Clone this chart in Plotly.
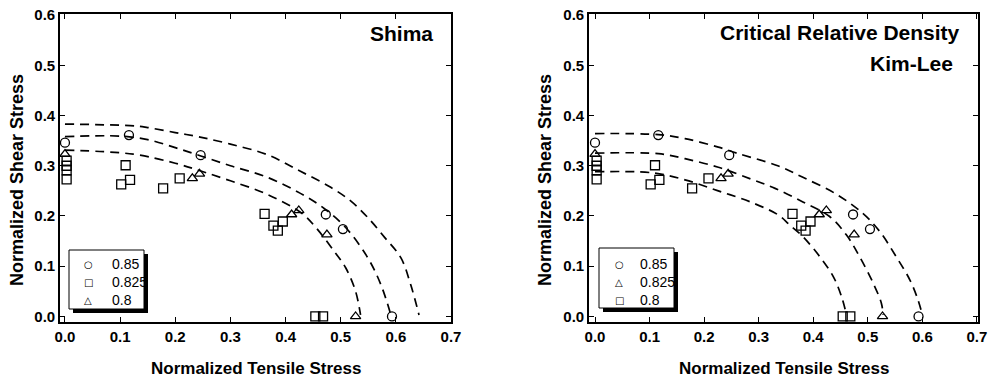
import plotly.graph_objects as go

# ---------------- data ----------------
circle_x = [0.0, 0.116, 0.246, 0.473, 0.504, 0.593]
circle_y = [0.346, 0.361, 0.321, 0.203, 0.174, 0.0]
square_x = [0.003, 0.003, 0.003, 0.003, 0.102, 0.110, 0.118, 0.178, 0.208,
            0.362, 0.378, 0.386, 0.395, 0.454, 0.468]
square_y = [0.310, 0.300, 0.291, 0.273, 0.263, 0.301, 0.272, 0.255, 0.275,
            0.204, 0.181, 0.171, 0.189, 0.0, 0.0]
triangle_x = [0.0, 0.231, 0.244, 0.411, 0.424, 0.475, 0.527]
triangle_y = [0.323, 0.275, 0.284, 0.203, 0.211, 0.163, 0.0]

shima_outer_x = [0.0, 0.13, 0.15, 0.2, 0.245, 0.3, 0.367, 0.427, 0.482, 0.518, 0.549, 0.58, 0.609, 0.627, 0.642]
shima_outer_y = [0.383, 0.379, 0.376, 0.366, 0.357, 0.343, 0.322, 0.289, 0.257, 0.23, 0.197, 0.157, 0.117, 0.063, 0.003]
shima_mid_x = [0.0, 0.1, 0.15, 0.2, 0.245, 0.3, 0.367, 0.427, 0.47, 0.509, 0.549, 0.573, 0.591]
shima_mid_y = [0.358, 0.359, 0.352, 0.336, 0.32, 0.3, 0.277, 0.245, 0.215, 0.177, 0.117, 0.063, 0.003]
shima_inner_x = [0.0, 0.124, 0.2, 0.245, 0.3, 0.367, 0.43, 0.455, 0.488, 0.509, 0.527, 0.536]
shima_inner_y = [0.331, 0.323, 0.305, 0.29, 0.27, 0.243, 0.205, 0.177, 0.13, 0.097, 0.05, 0.003]

kl_outer_x = [0.0, 0.116, 0.165, 0.226, 0.26, 0.335, 0.381, 0.443, 0.491, 0.522, 0.552, 0.577, 0.592, 0.6]
kl_outer_y = [0.364, 0.362, 0.354, 0.337, 0.325, 0.3, 0.277, 0.243, 0.205, 0.169, 0.119, 0.073, 0.033, 0.003]
kl_mid_x = [0.0, 0.116, 0.165, 0.226, 0.287, 0.33, 0.381, 0.43, 0.461, 0.485, 0.51, 0.525, 0.528]
kl_mid_y = [0.325, 0.324, 0.314, 0.297, 0.273, 0.255, 0.228, 0.199, 0.162, 0.119, 0.066, 0.026, 0.003]
kl_inner_x = [0.0, 0.104, 0.165, 0.226, 0.287, 0.336, 0.357, 0.381, 0.412, 0.437, 0.452, 0.461]
kl_inner_y = [0.288, 0.286, 0.272, 0.25, 0.227, 0.202, 0.182, 0.159, 0.119, 0.079, 0.039, 0.003]

legend_labels = ["0.85", "0.825", "0.8"]
left_legend_symbols = ["○", "□", "△"]     # circle, square, triangle
right_legend_symbols = ["○", "△", "□"]    # circle, triangle, square
x_ticks = [0.0, 0.1, 0.2, 0.3, 0.4, 0.5, 0.6, 0.7]
y_ticks = [0.0, 0.1, 0.2, 0.3, 0.4, 0.5, 0.6]

# ---------------- figure ----------------
W, H = 992, 380
FONT = "Liberation Sans, Arial, sans-serif"
fig = go.Figure()

def px(x):
    return x / W

def py(y):
    return 1 - y / H

mk = dict(size=9, color="black", line=dict(color="black", width=1.3))

def add_markers(xa, ya):
    for xs, ys, sym in [(circle_x, circle_y, "circle-open"),
                        (square_x, square_y, "square-open"),
                        (triangle_x, triangle_y, "triangle-up-open")]:
        fig.add_trace(go.Scatter(x=xs, y=ys, mode="markers", xaxis=xa, yaxis=ya,
                                 marker=dict(symbol=sym, **mk), showlegend=False,
                                 cliponaxis=False))

def add_curves(xa, ya, curves):
    for xs, ys in curves:
        fig.add_trace(go.Scatter(x=xs, y=ys, mode="lines", xaxis=xa, yaxis=ya,
                                 line=dict(color="black", width=1.7, dash="9px,6px",
                                           shape="spline", smoothing=1.0),
                                 showlegend=False, hoverinfo="skip"))

add_curves("x", "y", [(shima_outer_x, shima_outer_y), (shima_mid_x, shima_mid_y),
                      (shima_inner_x, shima_inner_y)])
add_curves("x2", "y2", [(kl_outer_x, kl_outer_y), (kl_mid_x, kl_mid_y),
                        (kl_inner_x, kl_inner_y)])
add_markers("x", "y")
add_markers("x2", "y2")

ydom = [py(322), py(14)]
axis_common = dict(showline=True, linewidth=1.6, linecolor="black", mirror="ticks",
                   ticks="inside", ticklen=5, tickwidth=1.3, tickcolor="black",
                   showgrid=False, zeroline=False, tickformat=".1f", automargin=False,
                   ticklabeloverflow="allow",
                   tickfont=dict(family=FONT, size=15, color="black", weight="bold"))

fig.update_layout(
    template="none",
    width=W, height=H,
    margin=dict(l=0, r=0, t=0, b=0),
    paper_bgcolor="white", plot_bgcolor="white",
    xaxis=dict(domain=[px(60), px(451)], range=[-0.009, 0.7], tickvals=x_ticks,
               anchor="y", **axis_common),
    yaxis=dict(domain=ydom, range=[-0.011, 0.602], tickvals=y_ticks, anchor="x",
               **axis_common),
    xaxis2=dict(domain=[px(589), px(978)], range=[-0.011, 0.702], tickvals=x_ticks,
                anchor="y2", **axis_common),
    yaxis2=dict(domain=ydom, range=[-0.011, 0.602], tickvals=y_ticks, anchor="x2",
                **axis_common),
    showlegend=False,
)

# legend boxes with drop shadow + entries
legends = [((69, 250, 144, 309), 88, 110, left_legend_symbols),
           ((599, 248, 674, 308), 619, 638, right_legend_symbols)]
row_y = [264, 282, 300]
for (x0, y0, x1, y1), sx, tx, syms in legends:
    fig.add_shape(type="rect", xref="paper", yref="paper",
                  x0=px(x0 + 4), x1=px(x1 + 4), y0=py(y1 + 4), y1=py(y0 + 4),
                  fillcolor="black", line=dict(width=0), layer="above")
    fig.add_shape(type="rect", xref="paper", yref="paper",
                  x0=px(x0), x1=px(x1), y0=py(y1), y1=py(y0),
                  fillcolor="white", line=dict(color="black", width=1), layer="above")
    for i, (sym, lab) in enumerate(zip(syms, legend_labels)):
        fig.add_annotation(xref="paper", yref="paper", x=px(sx), y=py(row_y[i]),
                           xanchor="center", yanchor="middle", showarrow=False,
                           text=sym, font=dict(family="DejaVu Sans", size=10, color="black"))
        fig.add_annotation(xref="paper", yref="paper", x=px(tx), y=py(row_y[i]),
                           xanchor="left", yanchor="middle", showarrow=False,
                           text=lab, font=dict(family=FONT, size=14, color="black"))

title_font = dict(family=FONT, size=17, color="black", weight="bold")
label_font = dict(family=FONT, size=21, color="black", weight="bold")
ann = [
    dict(text="Normalized Tensile Stress", x=px(255.5), y=py(368), font=title_font),
    dict(text="Normalized Tensile Stress", x=px(783.5), y=py(368), font=title_font),
    dict(text="Normalized Shear Stress", x=px(17), y=py(180), textangle=-90,
         font=dict(title_font, size=18)),
    dict(text="Normalized Shear Stress", x=px(545), y=py(180), textangle=-90,
         font=dict(title_font, size=18)),
    dict(text="Shima", x=px(435), y=py(33), xanchor="right", font=label_font),
    dict(text="Critical Relative Density", x=px(962), y=py(32), xanchor="right",
         font=label_font),
    dict(text="Kim-Lee", x=px(955), y=py(64), xanchor="right", font=label_font),
]
for a in ann:
    a.setdefault("xanchor", "center")
    fig.add_annotation(xref="paper", yref="paper", yanchor="middle", showarrow=False, **a)

# the page has a default 8px body margin; remove it so the figure sits at (0, 0)
fig.write_html("out.html",
               config={"displayModeBar": False},
               post_script="document.body.style.margin='0';"
                           "document.body.style.overflow='hidden';")
